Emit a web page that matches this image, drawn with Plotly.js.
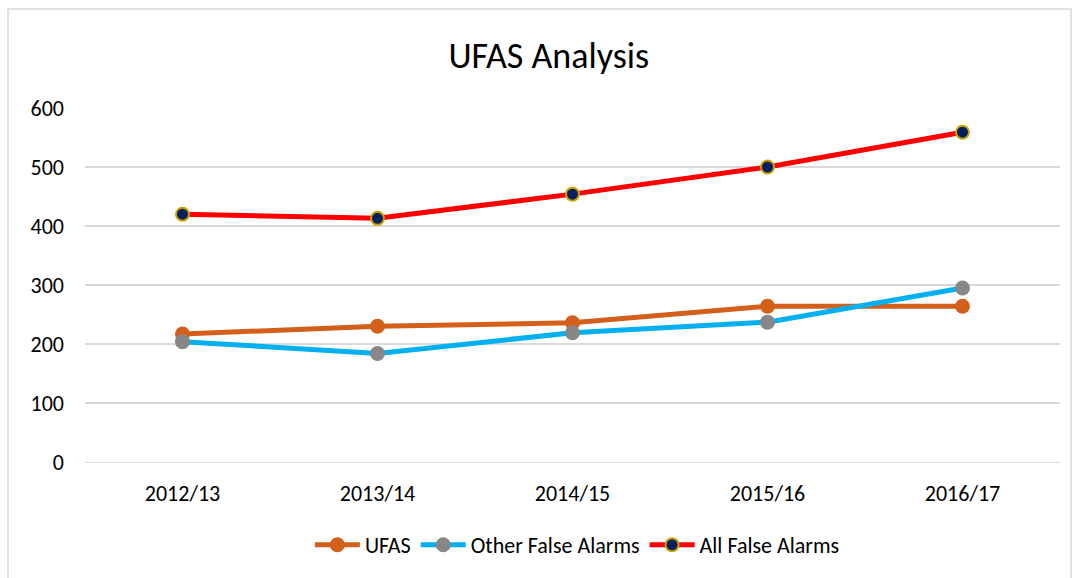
<!DOCTYPE html>
<html><head><meta charset="utf-8">
<script src="https://cdn.plot.ly/plotly-3.0.1.min.js"></script>
<style>body{margin:0;padding:0;background:#fff}#chart{width:1076px;height:578px}</style>
</head><body><div id="chart"></div>
<script>
const categories = ["2012/13","2013/14","2014/15","2015/16","2016/17"];
const ufas = [217, 230, 236, 264, 264];
const otherFalse = [204, 184, 219, 237, 295];
const allFalse = [420, 413, 454, 500, 559];
const yTicks = [0,100,200,300,400,500,600];

const font = "Carlito, Calibri, 'Open Sans', 'Liberation Sans', sans-serif";
const traces = [
  {x: categories, y: ufas, name: "UFAS", mode: "lines+markers",
   line: {color: "#D2601A", width: 5}, marker: {color: "#D2601A", size: 15}},
  {x: categories, y: otherFalse, name: "Other False Alarms", mode: "lines+markers",
   line: {color: "#00B0F0", width: 5}, marker: {color: "#878787", size: 15}},
  {x: categories, y: allFalse, name: "All False Alarms", mode: "lines+markers",
   line: {color: "#FF0000", width: 5}, marker: {color: "#002060", size: 13, line: {color: "#C9A100", width: 2}}}
];
const layout = {
  width: 1076, height: 578,
  margin: {l: 85, r: 16, t: 108, b: 116},
  paper_bgcolor: "#fff", plot_bgcolor: "#fff",
  font: {family: font, size: 22, color: "#000"},
  title: {text: "UFAS Analysis", x: 0.51, xanchor: "center", y: 0.905, yanchor: "middle", font: {size: 36, color: "#000", family: font}},
  xaxis: {type: "category", range: [-0.5, 4.5], showgrid: false, zeroline: false, showline: true, linecolor: "#d9d9d9", linewidth: 1, ticks: "", ticklabelstandoff: 12, tickfont: {size: 22}},
  yaxis: {range: [0, 600], tickvals: yTicks, showgrid: true, gridcolor: "#d9d9d9", gridwidth: 1.5, zeroline: false, showline: false, ticks: "", ticklabelstandoff: 20, tickfont: {size: 22}},
  showlegend: true,
  legend: {orientation: "h", x: 0.505, xanchor: "center", y: -0.175, yanchor: "top", font: {size: 22}, itemwidth: 45, tracegroupgap: 0},
  shapes: [{type: "rect", xref: "paper", yref: "paper",
    x0: (8-85)/975, x1: (1071-85)/975, y0: (462-590)/354, y1: (462-9)/354,
    line: {color: "#d9d9d9", width: 1.5}, fillcolor: "rgba(0,0,0,0)", layer: "below"}]
};
Plotly.newPlot("chart", traces, layout, {displayModeBar: false});
</script></body></html>
